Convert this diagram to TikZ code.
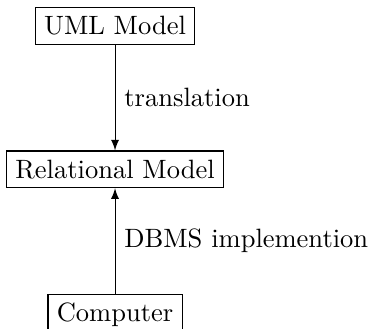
\documentclass[tikz,border=0pt]{standalone}
\usetikzlibrary{positioning}
\begin{document}
\begin{tikzpicture}[
  model/.style={rectangle, draw},
  node distance=1.4cm
]
\useasboundingbox (-1.525,0.345) rectangle (3.38,-4.007);

% Models
\node[model] (uml) {UML Model};
\node[model, below=of uml] (rel) {Relational Model};
\node[model, below=of rel] (comp) {Computer};

% Connections
\draw[-latex] (uml) -- node[right] {translation} (rel);
\draw[-latex] (comp) -- node[right] {DBMS implemention} (rel);
\end{tikzpicture}
\end{document}
